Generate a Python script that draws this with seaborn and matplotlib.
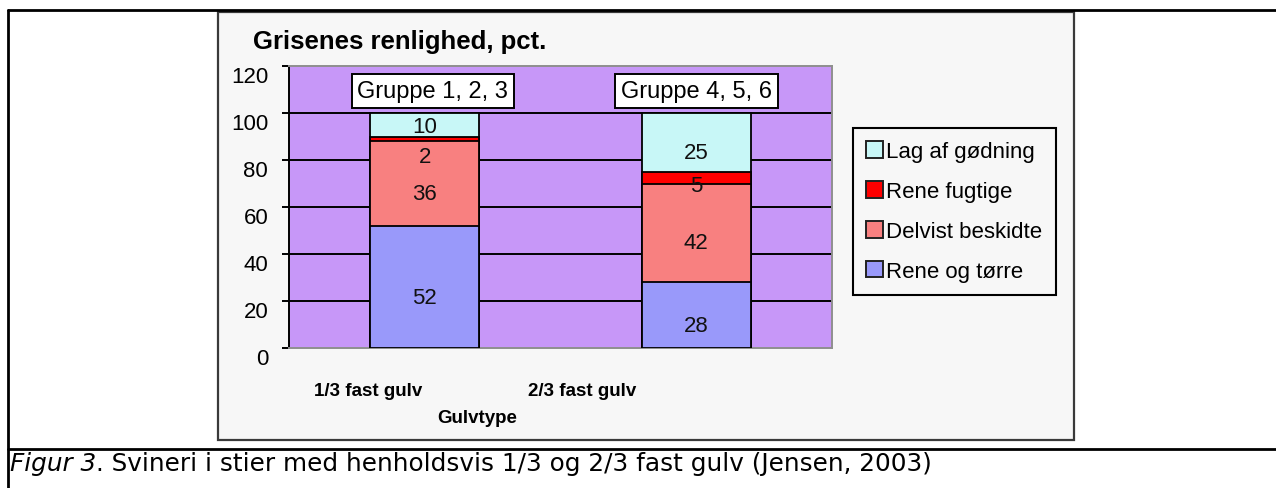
import matplotlib
matplotlib.use("Agg")
import numpy as np
import pandas as pd
import matplotlib.pyplot as plt
import matplotlib.transforms as mtransforms
import seaborn as sns
from matplotlib.patches import Patch, Rectangle
from matplotlib.lines import Line2D

# ============================================================
# DATA
# ============================================================

gulvtyper = ["1/3 fast gulv", "2/3 fast gulv"]
grupper = ["Gruppe 1, 2, 3", "Gruppe 4, 5, 6"]

# stacking order, bottom -> top
kategorier = ["Rene og tørre", "Delvist beskidte", "Rene fugtige", "Lag af gødning"]

rene_og_toerre = [52, 28]
delvist_beskidte = [36, 42]
rene_fugtige = [2, 5]
lag_af_goedning = [10, 25]

yticks = [0, 20, 40, 60, 80, 100, 120]

# ============================================================
# STYLE
# ============================================================

FARVER = {
    "Rene og tørre": "#9999fa",
    "Delvist beskidte": "#f88080",
    "Rene fugtige": "#ff0000",
    "Lag af gødning": "#c8f7f7",
}
PLOT_BG = "#c797f8"
CHART_BG = "#f7f7f7"

sns.set_style("ticks")
plt.rcParams["font.family"] = ["Liberation Sans", "DejaVu Sans"]
plt.rcParams["text.color"] = "black"
plt.rcParams["ytick.color"] = "black"
plt.rcParams["xtick.color"] = "black"
plt.rcParams["ytick.labelcolor"] = "black"

W, H = 1276, 489


def fx(px):
    return px / W


def fy(py):
    return 1 - py / H


# ============================================================
# LONG TABLE + CUMULATIVE HEIGHTS
# ============================================================

df = pd.DataFrame({
    "gulvtype": np.repeat(gulvtyper, len(kategorier)),
    "kategori": kategorier * len(gulvtyper),
    "pct": np.column_stack([
        rene_og_toerre, delvist_beskidte, rene_fugtige, lag_af_goedning
    ]).ravel(),
})
df["cum"] = df.groupby("gulvtype")["pct"].cumsum()
df["bund"] = df["cum"] - df["pct"]

# ============================================================
# FIGURE
# ============================================================

fig = plt.figure(figsize=(W / 100, H / 100), dpi=100)
fig.patch.set_facecolor("white")

# outer table frame + caption divider
for (x0, y0, x1, y1) in [(8, 11, 1276, 11), (8, 11, 8, 489), (8, 450, 1276, 450)]:
    fig.add_artist(Line2D([fx(x0), fx(x1)], [fy(y0), fy(y1)],
                          transform=fig.transFigure, color="black", lw=2))

# chart area
fig.add_artist(Rectangle((fx(218), fy(441)), (1074 - 218) / W, (441 - 13) / H,
                         transform=fig.transFigure, facecolor=CHART_BG,
                         edgecolor="#3a3a3a", lw=1.6, zorder=0))

ax = fig.add_axes([fx(289), fy(349), (832 - 289) / W, (349 - 67) / H])
ax.set_facecolor(PLOT_BG)
ax.set_axisbelow(True)

# stacked bars: draw cumulative totals from the top layer down
for kat in reversed(kategorier):
    sub = df[df["kategori"] == kat]
    sns.barplot(
        data=sub, x="gulvtype", y="cum", order=gulvtyper,
        color=FARVER[kat], saturation=1, width=0.4,
        edgecolor="black", linewidth=1.3, ax=ax, zorder=3,
    )

ax.set_xlim(-0.5, 1.5)
ax.set_ylim(0, 120)
ax.set_yticks(yticks)
ax.set_xticks([])
ax.set_xlabel("")
ax.set_ylabel("")

# horizontal gridlines
for t in yticks[1:-1]:
    ax.axhline(t, color="black", lw=1.4, zorder=1)

ax.tick_params(axis="y", direction="out", length=5, width=1.4,
               color="black", labelcolor="black", labelsize=16, pad=10)
for lab in ax.get_yticklabels():
    lab.set_verticalalignment("top")

for side in ["top", "right", "bottom"]:
    ax.spines[side].set_color("#8f8f8f")
    ax.spines[side].set_linewidth(1.4)
ax.spines["left"].set_color("black")
ax.spines["left"].set_linewidth(1.4)

# value labels inside segments
LABEL_NUDGE = {(0, "Rene fugtige"): -7.3, (0, "Lag af gødning"): -0.8,
               (1, "Rene fugtige"): -3.5}
for i, g in enumerate(gulvtyper):
    rows = df[df["gulvtype"] == g]
    for _, r in rows.iterrows():
        y = r["bund"] + r["pct"] / 2 + LABEL_NUDGE.get((i, r["kategori"]), -4.3)
        ax.text(i, y, f"{r['pct']:.0f}", ha="center", va="center",
                fontsize=16, color="#111111", zorder=5)

# group boxes above the bars
GROUP_DX = [0.03, 0.0]
for i, grp in enumerate(grupper):
    ax.text(i + GROUP_DX[i], 109.3, grp, ha="center", va="center", fontsize=17,
            zorder=6,
            bbox=dict(boxstyle="square,pad=0.25", facecolor="white",
                      edgecolor="black", lw=1.4))

# category labels (drawn where the original puts them)
XLAB_POS = [-0.21, 0.58]
trans = mtransforms.blended_transform_factory(ax.transData, ax.transAxes)
for pos, g in zip(XLAB_POS, gulvtyper):
    ax.text(pos, -0.15, g, transform=trans, ha="center", va="center",
            fontsize=13.5, fontweight="bold")

fig.text(fx(477), fy(419), "Gulvtype", ha="center", va="center",
         fontsize=13.5, fontweight="bold")

fig.text(fx(253), fy(42), "Grisenes renlighed, pct.", ha="left", va="center",
         fontsize=18.5, fontweight="bold")

# legend (top layer first, like the original)
handles = [Patch(facecolor=FARVER[k], edgecolor="#222222", lw=1.4)
           for k in reversed(kategorier)]
leg = fig.legend(
    handles, list(reversed(kategorier)),
    loc="upper left", bbox_to_anchor=(fx(853), fy(129)),
    frameon=True, fancybox=False, edgecolor="black", facecolor=CHART_BG,
    framealpha=1, fontsize=16, handlelength=0.75, handleheight=0.75,
    handletextpad=0.15, labelspacing=0.85, borderpad=0.6, borderaxespad=0,
)
leg.get_frame().set_linewidth(1.5)

# caption
renderer = fig.canvas.get_renderer()
t1 = fig.text(fx(10), fy(464), "Figur 3", ha="left", va="center",
              fontsize=17.8, fontstyle="italic", family="DejaVu Sans")
bb = t1.get_window_extent(renderer)
fig.text(bb.x1 / W, fy(464),
         ". Svineri i stier med henholdsvis 1/3 og 2/3 fast gulv (Jensen, 2003)",
         ha="left", va="center", fontsize=17.8, family="DejaVu Sans")

fig.savefig("out.png", dpi=100)
